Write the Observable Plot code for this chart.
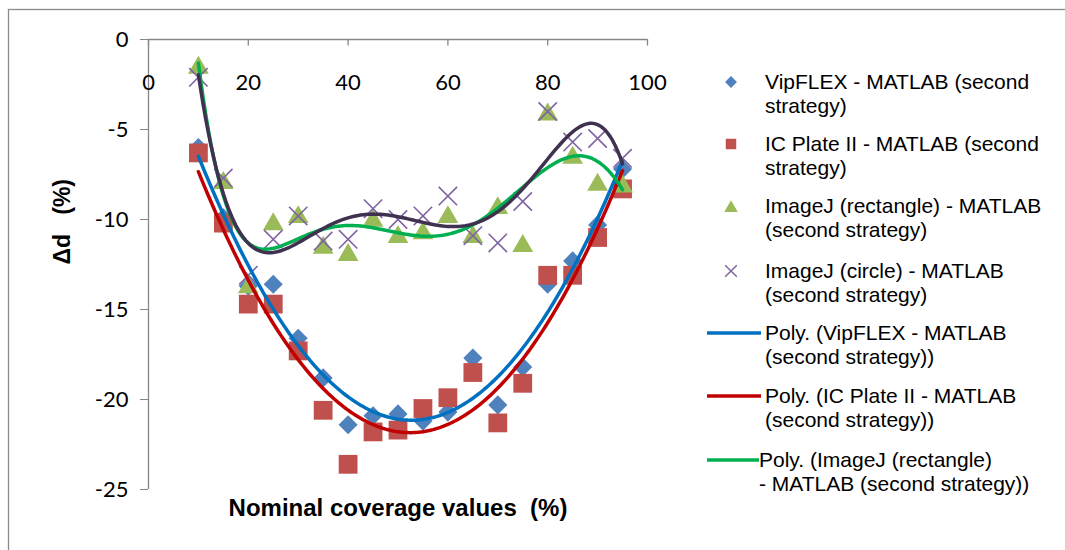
<!DOCTYPE html>
<html><head><meta charset="utf-8">
<script src="https://cdn.jsdelivr.net/npm/d3@7"></script>
<script src="https://cdn.jsdelivr.net/npm/@observablehq/plot@0.6"></script>
<style>
html,body{margin:0;padding:0;background:#fff;overflow:hidden;}
#chart{position:relative;width:1065px;height:550px;}
</style></head><body><div id="chart"></div>
<script>
// ---- data ----
const coverage     = [10, 15, 20, 25, 30, 35, 40, 45, 50, 55, 60, 65, 70, 75, 80, 85, 90, 95];
const vipflex      = [-6.0, -9.9, -13.7, -13.6, -16.6, -18.8, -21.4, -20.9, -20.8, -21.2, -20.7, -17.7, -20.3, -18.2, -13.6, -12.3, -10.3, -7.2];
const icPlate      = [-6.3, -10.2, -14.7, -14.7, -17.3, -20.6, -23.6, -21.8, -21.7, -20.5, -19.9, -18.5, -21.3, -19.1, -13.1, -13.1, -11.0, -8.3];
const imagejRect   = [-1.4, -7.8, -13.6, -10.1, -9.7, -11.4, -11.8, -9.9, -10.8, -10.6, -9.7, -10.8, -9.2, -11.3, -4.0, -6.4, -7.9, -8.0];
const imagejCircle = [-2.1, -7.7, -13.1, -11.1, -9.8, -11.2, -11.1, -9.4, -10.0, -9.8, -8.7, -10.9, -11.3, -9.0, -4.0, -5.7, -5.5, -6.6];
const xTicks = [0, 20, 40, 60, 80, 100];
const yTicks = [0, -5, -10, -15, -20, -25];
const legendLabels = [
  ["VipFLEX - MATLAB (second", "strategy)"],
  ["IC Plate II - MATLAB (second", "strategy)"],
  ["ImageJ (rectangle) - MATLAB", "(second strategy)"],
  ["ImageJ (circle) - MATLAB", "(second strategy)"],
  ["Poly. (VipFLEX - MATLAB", "(second strategy))"],
  ["Poly. (IC Plate II - MATLAB", "(second strategy))"],
  ["Poly. (ImageJ (rectangle)", "- MATLAB (second strategy))"]
];
const xTitle = "Nominal coverage values  (%)";
const yTitle = "\u0394d   (%)";

// ---- polynomial least-squares trendline (like Excel "Poly.") ----
function polyFit(xs, ys, order) {
  const mx = d3.mean(xs), sx = (d3.max(xs) - d3.min(xs)) / 2;
  const n = order + 1;
  const A = Array.from({length: n}, () => new Array(n + 1).fill(0));
  xs.forEach((x, k) => {
    const t = (x - mx) / sx;
    const p = [];
    for (let i = 0; i < n; i++) p.push(Math.pow(t, i));
    for (let i = 0; i < n; i++) {
      for (let j = 0; j < n; j++) A[i][j] += p[i] * p[j];
      A[i][n] += p[i] * ys[k];
    }
  });
  for (let c = 0; c < n; c++) {
    let piv = c;
    for (let r = c + 1; r < n; r++) if (Math.abs(A[r][c]) > Math.abs(A[piv][c])) piv = r;
    [A[c], A[piv]] = [A[piv], A[c]];
    for (let r = 0; r < n; r++) {
      if (r === c) continue;
      const f = A[r][c] / A[c][c];
      for (let k = c; k <= n; k++) A[r][k] -= f * A[c][k];
    }
  }
  const coef = A.map((row, i) => row[n] / row[i]);
  return x => { const t = (x - mx) / sx; return coef.reduce((s, c, i) => s + c * Math.pow(t, i), 0); };
}
const xs = d3.range(d3.min(coverage), d3.max(coverage) + 0.01, 0.5);
function trend(ys, order) { const f = polyFit(coverage, ys, order); return xs.map(x => ({x, y: f(x)})); }

const pts = ys => coverage.map((x, i) => ({x, y: ys[i]}));

const axisGray = "#868686";
const c = {blue: "#4F81BD", red: "#C0504D", green: "#9BBB59", purple: "#8064A2",
           lblue: "#0070C0", lred: "#C00000", lgreen: "#00B050", ldark: "#403151"};

const plot = Plot.plot({
  width: 1065, height: 550,
  marginLeft: 148, marginRight: 418, marginTop: 39, marginBottom: 61,
  style: {fontFamily: "Lato, sans-serif", fontSize: "22px", color: "black", background: "white"},
  x: {domain: [0, 100], axis: null},
  y: {domain: [-25, 0]},
  marks: [
    Plot.ruleY([0], {x1: 0, x2: 100, stroke: axisGray, strokeWidth: 1.3}),
    Plot.ruleX([0], {y1: -25, y2: 0, stroke: axisGray, strokeWidth: 1.3}),
    Plot.ruleX(xTicks, {x: d => d, y1: 0, y2: -0.36, stroke: axisGray, strokeWidth: 1.3}),
    Plot.axisY({ticks: yTicks, tickSize: 8, tickPadding: 12, stroke: axisGray, fill: "black", fontSize: 22, label: null, tickFormat: d => String(d)}),
    Plot.text(xTicks, {x: d => d, y: d => 0, dy: 43, text: d => String(d), fontSize: 22, fill: "black"}),
    Plot.dot(pts(vipflex), {x: "x", y: "y", symbol: "diamond2", r: 8.6, fill: c.blue, stroke: "none"}),
    Plot.dot(pts(icPlate), {x: "x", y: "y", symbol: "square", r: 10.6, fill: c.red, stroke: "none"}),
    Plot.dot(pts(imagejRect), {x: "x", y: "y", symbol: "triangle", r: 7.7, fill: c.green, stroke: "none", dy: 3}),
    Plot.dot(pts(imagejCircle), {x: "x", y: "y", symbol: "times", r: 8.4, stroke: c.purple, strokeWidth: 1.6}),
    Plot.line(trend(vipflex, 2), {x: "x", y: "y", stroke: c.lblue, strokeWidth: 3.5}),
    Plot.line(trend(icPlate, 2), {x: "x", y: "y", stroke: c.lred, strokeWidth: 3.5}),
    Plot.line(trend(imagejRect, 6), {x: "x", y: "y", stroke: c.lgreen, strokeWidth: 3.5}),
    Plot.line(trend(imagejCircle, 6), {x: "x", y: "y", stroke: c.ldark, strokeWidth: 3.5}),
    Plot.text([xTitle], {frameAnchor: "bottom", dy: 26, fontFamily: "Liberation Sans, Arial, sans-serif", fontWeight: "bold", fontSize: 24, fill: "black"}),
    Plot.text([yTitle], {frameAnchor: "left", dx: -86, rotate: -90, fontFamily: "Liberation Sans, Arial, sans-serif", fontWeight: "bold", fontSize: 23, fill: "black"})
  ]
});
document.getElementById("chart").appendChild(plot);

// ---- outer chart border & legend ----
const svg = d3.select(plot);
svg.insert("rect", ":first-child").attr("x", 8.5).attr("y", 9.5).attr("width", 1080).attr("height", 560)
  .attr("fill", "white").attr("stroke", "#8a8a8a").attr("stroke-width", 1.3);

const lg = svg.append("g").attr("font-family", "Liberation Sans, Arial, sans-serif").attr("font-size", 21)
  .attr("fill", "black").attr("text-anchor", "start");
const markerKinds = [
  {type: d3.symbolDiamond2, size: 90, fill: c.blue},
  {type: d3.symbolSquare, size: 110, fill: c.red},
  {type: d3.symbolTriangle, size: 80, fill: c.green},
  {type: d3.symbolTimes, size: 90, stroke: c.purple}
];
const lineKinds = [c.lblue, c.lred, c.lgreen];
const rowY = [82, 144, 206, 271, 333, 396, 460];
legendLabels.forEach((lines, i) => {
  const y = rowY[i];
  let tx = 765;
  if (i < 4) {
    const m = markerKinds[i];
    lg.append("path").attr("transform", `translate(731,${y + (i === 2 ? 2 : 0)})`)
      .attr("d", d3.symbol(m.type, m.size)())
      .attr("fill", m.fill || "none").attr("stroke", m.stroke || "none").attr("stroke-width", 1.5);
  } else {
    const k = i - 4;
    const x2 = k === 2 ? 759 : 761;
    lg.append("line").attr("x1", 707).attr("x2", x2).attr("y1", y).attr("y2", y)
      .attr("stroke", lineKinds[k]).attr("stroke-width", 3.5);
    if (k === 2) tx = 759;
  }
  lines.forEach((t, j) => {
    lg.append("text").attr("x", tx).attr("y", y + j * 24).attr("dy", "0.35em").attr("text-anchor", "start").text(t);
  });
});
</script></body></html>
